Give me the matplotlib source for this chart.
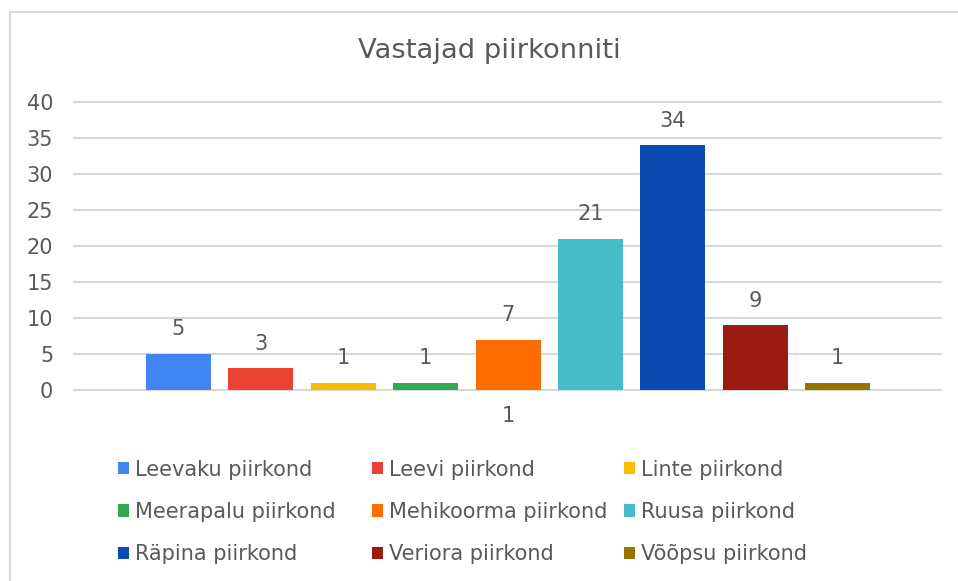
import matplotlib
matplotlib.use("Agg")
import matplotlib.pyplot as plt
from matplotlib.lines import Line2D
from matplotlib.patches import Patch

plt.rcParams['font.family'] = ['DejaVu Sans']

title = "Vastajad piirkonniti"
categories = ["1"]
series_names = ["Leevaku piirkond", "Leevi piirkond", "Linte piirkond",
                "Meerapalu piirkond", "Mehikoorma piirkond", "Ruusa piirkond",
                "Räpina piirkond", "Veriora piirkond", "Võõpsu piirkond"]
values = [5, 3, 1, 1, 7, 21, 34, 9, 1]
colors = ["#4285F4", "#EA4335", "#FBBC04", "#34A853", "#FF6D01", "#46BDC6",
          "#0B4AB0", "#9B1B12", "#997300"]
y_ticks = [0, 5, 10, 15, 20, 25, 30, 35, 40]

TXT = "#595959"
GRID = "#D9D9D9"
W, H = 958, 581

fig = plt.figure(figsize=(W / 100, H / 100), dpi=100)
fig.patch.set_facecolor("white")

# chart border (left and top visible)
fig.add_artist(Line2D([10 / W, 10 / W], [0, 1 - 12 / H], transform=fig.transFigure,
                      color=GRID, lw=1.5))
fig.add_artist(Line2D([10 / W, 1], [1 - 12 / H, 1 - 12 / H], transform=fig.transFigure,
                      color=GRID, lw=1.5))

ax = fig.add_axes([74 / W, 1 - 390 / H, (941 - 74) / W, (390 - 102) / H])
xs = list(range(len(values)))
bars = ax.bar(xs, values, width=0.789, color=colors, zorder=3)
for x, v in zip(xs, values):
    ax.annotate(str(v), (x, v), xytext=(0, 10.5), textcoords="offset points",
                ha="center", va="bottom", fontsize=15, color=TXT)

ax.set_xlim(-1.268, 9.254)
ax.set_ylim(0, 40)
ax.set_yticks(y_ticks)
ax.set_yticklabels([str(t) for t in y_ticks])
ax.set_xticks([4])
ax.set_xticklabels(categories)
ax.tick_params(axis="both", length=0, labelsize=15, labelcolor=TXT)
ax.tick_params(axis="y", pad=15)
ax.tick_params(axis="x", pad=11.5)
for s in ax.spines.values():
    s.set_visible(False)
ax.yaxis.grid(True, color=GRID, lw=1.5, zorder=0)
for gl in ax.get_ygridlines():
    gl.set_clip_on(False)
ax.set_axisbelow(True)

fig.text(489.5 / W, 1 - 58 / H, title, ha="center", va="baseline",
         fontsize=19.7, color=TXT)

# legend: three columns, row-major order
col_x = [118, 372, 624]
for c in range(3):
    idx = [c, c + 3, c + 6]
    handles = [Patch(facecolor=colors[i], edgecolor="none") for i in idx]
    labels = [series_names[i] for i in idx]
    leg = fig.legend(handles, labels, loc="center left",
                     bbox_to_anchor=(col_x[c] / W, 1 - 512 / H),
                     frameon=False, fontsize=15, handlelength=0.53,
                     handleheight=0.53, handletextpad=0.3, labelspacing=1.07,
                     borderpad=0, borderaxespad=0)
    for t in leg.get_texts():
        t.set_color(TXT)

fig.savefig("out.png", dpi=100)
